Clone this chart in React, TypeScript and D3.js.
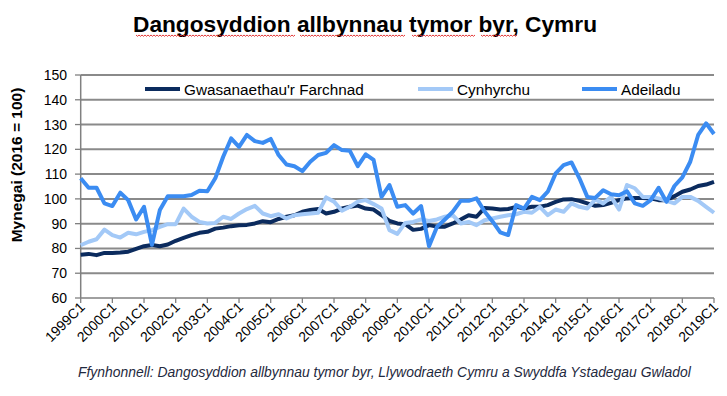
import * as d3 from "d3";
import React from "react";

// quarterly index values, 1999C1 .. 2019C1
const services = [
  77.5, 77.8, 77.3, 78.2, 78.2, 78.4, 78.7, 79.8, 80.9, 81.4, 80.9, 81.6, 83.1, 84.3, 85.4, 86.3,
  86.7, 88.0, 88.4, 89.0, 89.4, 89.5, 90.1, 91.0, 90.6, 91.9, 92.8, 93.4, 94.8, 95.5, 95.9, 94.1,
  94.8, 96.1, 96.8, 97.3, 96.1, 95.7, 93.4, 91.1, 90.1, 89.8, 87.5, 87.9, 89.4, 88.8, 88.8, 90.1,
  91.7, 93.4, 92.8, 96.3, 96.1, 95.7, 95.9, 96.8, 96.1, 96.8, 96.8, 97.5, 98.8, 99.8, 99.9, 99.2,
  98.2, 97.2, 97.5, 98.4, 99.5, 100.2, 100.4, 100.4, 100.2, 99.5, 99.5, 101.1, 102.9, 103.8, 105.2,
  105.8, 106.9,
];
const production = [
  81.3, 82.7, 83.7, 87.6, 85.4, 84.4, 86.3, 85.7, 86.7, 87.4, 88.7, 89.8, 89.8, 96.1, 92.8, 90.7,
  90.1, 90.3, 92.8, 91.9, 94.1, 95.9, 97.2, 94.1, 93.0, 93.8, 92.1, 93.4, 93.8, 94.1, 94.4, 100.6,
  98.9, 95.2, 96.8, 98.9, 99.5, 97.9, 96.1, 87.4, 85.9, 90.3, 90.7, 91.7, 91.1, 91.7, 92.8, 93.4,
  90.1, 90.7, 89.4, 91.4, 92.1, 92.8, 93.4, 93.8, 94.8, 94.4, 96.8, 93.4, 95.7, 94.8, 98.2, 96.8,
  96.1, 99.8, 98.2, 100.8, 95.7, 105.6, 104.3, 100.8, 100.8, 100.2, 99.2, 98.2, 100.8, 100.8, 99.2,
  96.8, 94.4,
];
const construction = [
  108.3, 104.5, 104.5, 98.2, 97.1, 102.5, 99.5, 91.7, 96.8, 81.5, 95.5, 101.1, 101.1, 101.1, 101.6,
  103.3, 103.1, 108.3, 117.0, 124.4, 121.0, 125.8, 123.3, 122.6, 124.2, 117.7, 113.9, 113.2, 111.2,
  115.0, 117.7, 118.6, 121.7, 119.7, 119.4, 113.2, 118.0, 115.7, 100.8, 105.6, 96.8, 97.5, 94.1,
  97.1, 80.9, 88.7, 91.7, 94.8, 99.2, 99.2, 100.2, 95.0, 91.0, 86.5, 85.4, 97.5, 96.1, 100.8, 99.5,
  102.9, 110.3, 113.6, 114.7, 108.3, 100.8, 100.4, 103.5, 101.9, 101.5, 103.1, 98.2, 97.2, 99.5,
  104.5, 98.8, 105.2, 108.7, 115.0, 125.8, 130.5, 126.2,
];

const years = d3.range(1999, 2020);
const yTicks = d3.range(60, 151, 10);

const seriesNames = ["Gwasanaethau'r Farchnad", "Cynhyrchu", "Adeiladu"];
const seriesColors = ["#0b2b5e", "#a3c9f7", "#3b8cf2"];

const font = "'Liberation Sans', Arial, sans-serif";

export default function App() {
  const x = d3.scaleLinear().domain([0, services.length - 1]).range([80.7, 714]);
  const y = d3.scaleLinear().domain([60, 150]).range([298, 75]);

  const line = d3
    .line<number>()
    .x((d, i) => x(i))
    .y((d) => y(d));

  const series = [services, production, construction];
  const legendX = [145, 418, 582];

  // red squiggle under the words the spell checker flagged
  const squiggles = [
    [136, 294],
    [300, 405],
    [412, 473],
    [481, 515],
  ];
  const wavy = (a: number, b: number) => {
    let p = `M${a},35`;
    for (let xx = a; xx < b; xx += 3) p += ` l1.5,1.3 l1.5,-1.3`;
    return p;
  };

  return (
    <svg
      width={727}
      height={396}
      style={{ position: "absolute", left: 0, top: 0, background: "#fff" }}
      fontFamily={font}
    >
      <text
        x={133}
        y={31.5}
        fontSize={22}
        fontWeight="bold"
        fill="#000"
        textLength={464}
        lengthAdjust="spacingAndGlyphs"
      >
        Dangosyddion allbynnau tymor byr, Cymru
      </text>
      {squiggles.map(([a, b], i) => (
        <path key={i} d={wavy(a, b)} fill="none" stroke="#e02020" strokeWidth={0.9} />
      ))}

      {/* grid */}
      {yTicks.map((t) => (
        <g key={t}>
          {t > 60 && (
            <line x1={x(0)} x2={x(80)} y1={y(t)} y2={y(t)} stroke="#8a8a8a" strokeWidth={2} />
          )}
          <line x1={75} x2={x(0)} y1={y(t)} y2={y(t)} stroke="#808080" strokeWidth={1.3} />
          <text x={67} y={y(t) + 5} textAnchor="end" fontSize={14} fill="#000">
            {t}
          </text>
        </g>
      ))}

      {/* axes */}
      <line x1={x(0)} x2={x(0)} y1={y(150)} y2={y(60)} stroke="#808080" strokeWidth={1.5} />
      <line x1={x(0)} x2={x(80)} y1={y(60)} y2={y(60)} stroke="#808080" strokeWidth={1.5} />
      {years.map((yr, k) => {
        const xi = x(k * 4);
        return (
          <g key={yr}>
            <line x1={xi} x2={xi} y1={y(60)} y2={y(60) + 5} stroke="#808080" strokeWidth={1.3} />
            <text
              transform={`translate(${xi + 5},${y(60) + 10}) rotate(-45)`}
              textAnchor="end"
              fontSize={14}
              fill="#000"
            >
              {yr}C1
            </text>
          </g>
        );
      })}

      <text
        transform="translate(22,165) rotate(-90)"
        textAnchor="middle"
        fontSize={15.5}
        fontWeight="bold"
        fill="#000"
      >
        Mynegai (2016 = 100)
      </text>

      {/* series */}
      {series.map((s, i) => (
        <path
          key={i}
          d={line(s) || ""}
          fill="none"
          stroke={seriesColors[i]}
          strokeWidth={4}
          strokeLinejoin="round"
        />
      ))}

      {/* legend */}
      {seriesNames.map((name, i) => (
        <g key={name}>
          <line
            x1={legendX[i]}
            x2={legendX[i] + 35}
            y1={89}
            y2={89}
            stroke={seriesColors[i]}
            strokeWidth={4}
          />
          <text x={legendX[i] + 39} y={94.5} fontSize={15.3} fill="#000">
            {name}
          </text>
        </g>
      ))}

      <text x={78} y={376.5} fontSize={13.9} fontStyle="italic" fill="#1f2a40">
        Ffynhonnell: Dangosyddion allbynnau tymor byr, Llywodraeth Cymru a Swyddfa Ystadegau Gwladol
      </text>
    </svg>
  );
}
